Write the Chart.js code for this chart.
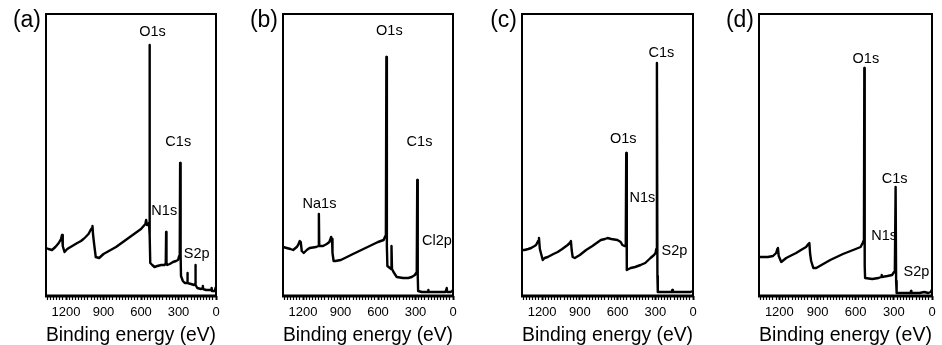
<!DOCTYPE html>
<html>
<head>
<meta charset="utf-8">
<script src="https://cdn.jsdelivr.net/npm/chart.js@4.4.1/dist/chart.umd.min.js"></script>
<style>
  html, body { margin: 0; padding: 0; background: #fff; }
  #wrap { position: relative; width: 942px; height: 345px; overflow: hidden; }
  .panel { position: absolute; top: 0; height: 345px; }
</style>
</head>
<body>
<div id="wrap">
  <div class="panel" style="left:0px;width:236px"><canvas id="chart-a"></canvas></div>
  <div class="panel" style="left:238px;width:234px"><canvas id="chart-b"></canvas></div>
  <div class="panel" style="left:476px;width:235px"><canvas id="chart-c"></canvas></div>
  <div class="panel" style="left:714px;width:228px"><canvas id="chart-d"></canvas></div>
</div>
<script>
// XPS survey spectra, binding energy (eV) vs intensity (a.u.)
const tickLabels = [0, 300, 600, 900, 1200];

const energyA = [1360, 1340, 1312, 1285, 1258, 1240, 1232, 1226, 1212, 1190, 1177, 1150, 1110, 1080, 1060, 1043, 1020, 1003, 992, 988, 984, 976, 962, 935, 900, 800, 700, 600, 586, 565, 559, 552, 540, 536, 532, 529, 526, 510, 492, 470, 438, 410, 402, 399, 396, 390, 370, 344, 320, 304, 295, 290, 287, 283, 280, 265, 250, 232, 229, 226, 200, 175, 168, 165, 162, 150, 120, 107, 105, 103, 80, 40, 35, 32, 10, 4, 0];
const intensityA = [48, 47, 46, 49, 53, 57, 61, 50, 44, 47, 48, 50, 53, 55, 57, 59, 62, 66, 68, 70, 62, 53, 39, 38, 42, 49, 58, 67, 69, 72, 76, 71, 71, 73, 251, 60, 33, 31, 29, 30, 31, 31, 33, 64, 33, 31, 32, 34, 35, 36, 40, 45, 133, 40, 20, 15, 13, 13, 23, 13, 12, 11, 12, 31, 11, 8, 7, 8, 10, 7, 6, 6, 8, 5, 5, 8, 9];

const energyB = [1360, 1331, 1300, 1279, 1250, 1239, 1226, 1218, 1210, 1194, 1170, 1147, 1095, 1076, 1073, 1070, 1040, 1010, 989, 975, 968, 964, 955, 942, 897, 800, 700, 600, 555, 545, 537, 533, 529, 525, 505, 495, 492, 488, 476, 450, 400, 358, 330, 305, 295, 290, 286, 282, 279, 250, 200, 198, 196, 100, 60, 50, 47, 20, 5, 0];
const intensityB = [49, 48, 47, 46, 49, 51, 55, 54, 45, 43, 46, 48, 49, 50, 82, 50, 50, 52, 54, 59, 57, 43, 35, 35, 36, 42, 48, 54, 56, 59, 61, 239, 50, 30, 28, 27, 50, 27, 24, 19, 18, 18, 19, 21, 23, 26, 116, 20, 5, 4, 4, 6, 4, 4, 4, 8, 4, 4, 5, 6];

const energyC = [1360, 1340, 1310, 1287, 1260, 1248, 1232, 1225, 1218, 1195, 1180, 1155, 1110, 1076, 1040, 997, 980, 971, 965, 957, 940, 900, 850, 800, 733, 700, 680, 650, 601, 575, 562, 545, 535, 531, 528, 525, 496, 460, 417, 380, 338, 310, 298, 292, 287, 283, 280, 250, 200, 170, 165, 160, 100, 50, 20, 0];
const intensityC = [46, 46, 47, 48, 50, 51, 55, 58, 47, 36, 38, 39, 42, 44, 47, 51, 53, 55, 46, 39, 38, 41, 46, 50, 56, 57, 58, 57, 56, 54, 51, 50, 50, 143, 40, 26, 28, 29, 31, 33, 38, 41, 43, 47, 233, 20, 4, 4, 4, 4, 6, 4, 4, 4, 4, 5];

const energyD = [1360, 1328, 1290, 1250, 1225, 1216, 1211, 1205, 1185, 1146, 1100, 1068, 1030, 990, 972, 964, 958, 950, 933, 910, 800, 700, 600, 561, 545, 535, 532, 529, 526, 470, 420, 400, 397, 394, 350, 314, 298, 292, 286, 282, 278, 200, 168, 165, 162, 100, 60, 30, 10, 2, 0];
const intensityD = [39, 39, 39, 40, 43, 47, 48, 40, 34, 38, 41, 43, 46, 49, 52, 53, 42, 35, 28, 28, 36, 42, 47, 49, 53, 56, 228, 30, 18, 17, 18, 19, 21, 19, 20, 21, 24, 28, 109, 15, 3, 3, 3, 5, 3, 3, 4, 3, 4, 6, 6];

const peakNamesA = ['O1s', 'C1s', 'N1s', 'S2p'];
const peakNamesB = ['O1s', 'C1s', 'Na1s', 'Cl2p'];
const peakNamesC = ['C1s', 'O1s', 'N1s', 'S2p'];
const peakNamesD = ['O1s', 'C1s', 'N1s', 'S2p'];

const FONT = '"Liberation Sans", Arial, Helvetica, sans-serif';

// draws the box frame, panel letter and peak labels
const decorPlugin = {
    id: 'decor',
    afterDraw(chart, args, opts) {
        const ctx = chart.ctx;
        const a = chart.chartArea;
        const xs = chart.scales.x, ys = chart.scales.y;
        ctx.save();
        ctx.strokeStyle = '#000';
        ctx.lineWidth = 2;
        ctx.strokeRect(a.left, a.top, a.right - a.left, a.bottom - a.top);
        // bottom axis a bit heavier, like the original
        ctx.lineWidth = 3;
        ctx.beginPath();
        ctx.moveTo(a.left - 1, a.bottom);
        ctx.lineTo(a.right + 1, a.bottom);
        ctx.stroke();

        ctx.fillStyle = '#000';
        ctx.font = '23px ' + FONT;
        ctx.textAlign = 'right';
        ctx.textBaseline = 'alphabetic';
        ctx.fillText(opts.letter, a.left - 5, 27);

        ctx.font = '14.5px ' + FONT;
        ctx.textAlign = 'center';
        ctx.textBaseline = 'middle';
        opts.names.forEach((name, i) => {
            const p = opts.labelAt[i];
            ctx.fillText(name, xs.getPixelForValue(p[0]), ys.getPixelForValue(p[1]));
        });
        ctx.restore();
    }
};

function makePanel(id, letter, energy, intensity, names, labelAt, padLeft, padRight) {
    const points = energy.map((e, i) => ({ x: e, y: intensity[i] }));
    return new Chart(document.getElementById(id).getContext('2d'), {
        type: 'line',
        data: {
            datasets: [{
                data: points,
                borderColor: '#000',
                borderWidth: 2.4,
                borderJoinStyle: 'round',
                pointRadius: 0,
                tension: 0,
                fill: false
            }]
        },
        options: {
            responsive: true,
            maintainAspectRatio: false,
            animation: false,
            events: [],
            layout: { padding: { left: padLeft, right: padRight, top: 14, bottom: 0 } },
            plugins: {
                legend: { display: false },
                tooltip: { enabled: false },
                decor: { letter: letter, names: names, labelAt: labelAt }
            },
            scales: {
                x: {
                    type: 'linear',
                    reverse: true,
                    min: 0,
                    max: 1360,
                    afterFit: s => { s.height = 49; },
                    border: { display: false },
                    grid: {
                        drawOnChartArea: false,
                        drawTicks: true,
                        tickLength: 4,
                        tickColor: '#000',
                        tickWidth: ctx => (ctx.tick && tickLabels.includes(ctx.tick.value)) ? 2 : 1.2
                    },
                    ticks: {
                        stepSize: 25,
                        includeBounds: false,
                        autoSkip: false,
                        maxRotation: 0,
                        minRotation: 0,
                        padding: 5,
                        color: '#000',
                        font: { family: FONT, size: 13 },
                        callback: v => tickLabels.includes(v) ? String(v) : ''
                    },
                    title: {
                        display: true,
                        text: 'Binding energy (eV)',
                        color: '#000',
                        font: { family: FONT, size: 20, lineHeight: 1 },
                        padding: { top: 0, bottom: 0 }
                    }
                },
                y: { display: false, min: 0, max: 282 }
            }
        },
        plugins: [decorPlugin]
    });
}

makePanel('chart-a', '(a)', energyA, intensityA, peakNamesA,
    [[508, 264], [302, 154], [414, 85], [155, 42]], 46, 20);
makePanel('chart-b', '(b)', energyB, intensityB, peakNamesB,
    [[509, 265], [268, 154], [1068, 92], [128, 55]], 45, 19);
makePanel('chart-c', '(c)', energyC, intensityC, peakNamesC,
    [[252, 243], [555, 157], [403, 98], [148, 45]], 46, 18);
makePanel('chart-d', '(d)', energyD, intensityD, peakNamesD,
    [[520, 237], [294, 117], [376, 60], [122, 24]], 45, 10);
</script>
</body>
</html>
